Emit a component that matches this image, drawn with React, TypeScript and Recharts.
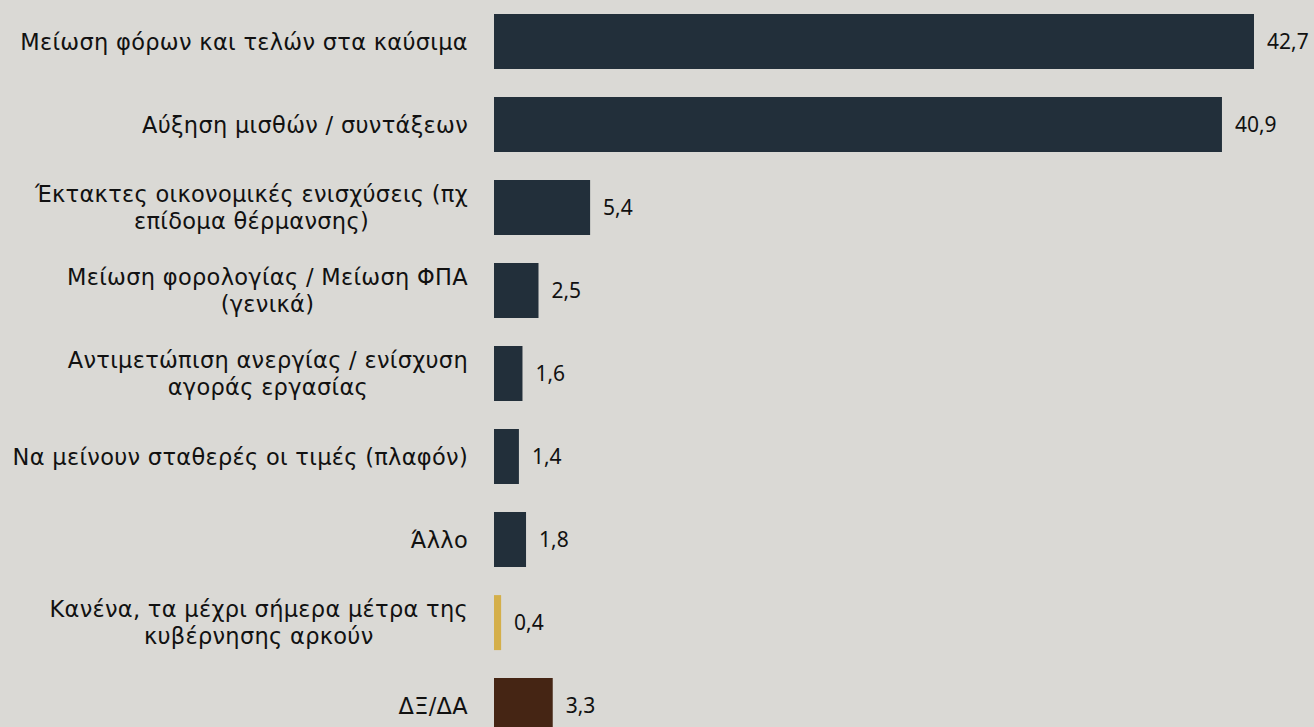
import { FC } from 'react'
import { Bar, BarChart, Cell, LabelList, XAxis, YAxis } from 'recharts'

const categories = [
  'Μείωση φόρων και τελών στα καύσιμα',
  'Αύξηση μισθών / συντάξεων',
  'Έκτακτες οικονομικές ενισχύσεις (πχ\nεπίδομα θέρμανσης)',
  'Μείωση φορολογίας / Μείωση ΦΠΑ\n(γενικά)',
  'Αντιμετώπιση ανεργίας / ενίσχυση\nαγοράς εργασίας',
  'Να μείνουν σταθερές οι τιμές (πλαφόν)',
  'Άλλο',
  'Κανένα, τα μέχρι σήμερα μέτρα της\nκυβέρνησης αρκούν',
  'ΔΞ/ΔΑ',
]
const values = [42.7, 40.9, 5.4, 2.5, 1.6, 1.4, 1.8, 0.4, 3.3]
const COLORS = ['#222f3a', '#222f3a', '#222f3a', '#222f3a', '#222f3a', '#222f3a', '#222f3a', '#d4af4a', '#452514']

const data = categories.map((name, i) => ({ name, value: values[i] }))

const TICK_FONT = '"DejaVu Sans", sans-serif'
const NUM_FONT = '"Noto Sans", sans-serif'
const TICK_SIZE = 22.5
const SPACING = 0.3

let ctx: CanvasRenderingContext2D | null = null
const measure = (s: string) => {
  if (!ctx) ctx = document.createElement('canvas').getContext('2d')
  if (!ctx) return s.length * 12
  ctx.font = `${TICK_SIZE}px ${TICK_FONT}`
  return ctx.measureText(s).width + s.length * SPACING
}

const Tick: FC<any> = ({ x, y, payload }) => {
  const lines: string[] = String(payload.value).split('\n')
  const lh = 27
  const start = -((lines.length - 1) * lh) / 2
  const maxW = Math.max(...lines.map(measure))
  const cx = x - maxW / 2
  return (
    <text
      x={x}
      y={y}
      textAnchor={lines.length > 1 ? 'middle' : 'end'}
      fill="#111"
      fontSize={TICK_SIZE}
      letterSpacing={SPACING}
      fontFamily={TICK_FONT}
    >
      {lines.map((l, i) => (
        <tspan key={i} x={lines.length > 1 ? cx : x} y={y + start + i * lh} dy="0.36em">
          {l}
        </tspan>
      ))}
    </text>
  )
}

export default function App() {
  return (
    <div
      style={{
        position: 'absolute',
        left: 0,
        top: 0,
        width: 1314,
        height: 727,
        background: '#dad9d5',
        overflow: 'hidden',
      }}
    >
      <BarChart
        width={1314}
        height={747}
        data={data}
        layout="vertical"
        margin={{ top: 0, right: 60, bottom: 0, left: 0 }}
        barCategoryGap="17%"
      >
        <XAxis type="number" domain={[0, 42.7]} hide />
        <YAxis
          type="category"
          dataKey="name"
          width={494}
          axisLine={false}
          tickLine={false}
          tickMargin={20}
          tick={<Tick />}
          interval={0}
        />
        <Bar dataKey="value" isAnimationActive={false}>
          {data.map((_, i) => (
            <Cell key={`cell-${i}`} fill={COLORS[i]} />
          ))}
          <LabelList
            dataKey="value"
            position="right"
            offset={13}
            fill="#111"
            fontSize={21}
            fontFamily={NUM_FONT}
            formatter={(v: any) => String(v).replace('.', ',')}
          />
        </Bar>
      </BarChart>
    </div>
  )
}
